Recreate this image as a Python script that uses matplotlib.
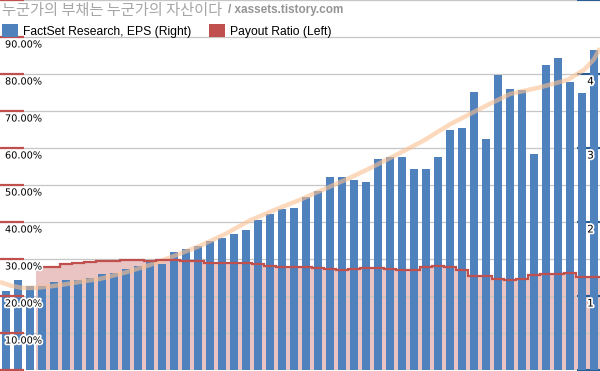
import numpy as np
import matplotlib
matplotlib.use("Agg")
import matplotlib.pyplot as plt
import matplotlib.patheffects as pe
from matplotlib.patches import Patch
from matplotlib.transforms import blended_transform_factory, offset_copy

# ---------------- data ----------------
eps = [1.07, 1.22, 1.14, 1.14, 1.19, 1.22, 1.22, 1.25, 1.30, 1.31,
       1.37, 1.40, 1.46, 1.43, 1.59, 1.64, 1.68, 1.74, 1.79, 1.84,
       1.89, 2.03, 2.11, 2.18, 2.19, 2.34, 2.42, 2.61, 2.61, 2.57,
       2.54, 2.85, 2.88, 2.88, 2.72, 2.72, 2.88, 3.24, 3.27, 3.76,
       3.12, 3.99, 3.80, 3.78, 2.92, 4.12, 4.22, 3.89, 3.74, 4.32]
payout_start = 3
payout = [27.8, 27.8, 28.6, 28.9, 29.2, 29.4, 29.5, 29.6, 29.6, 29.5,
          29.7, 29.7, 29.5, 29.5, 29.0, 29.0, 29.0, 29.0, 28.6, 28.1,
          27.9, 27.8, 27.8, 27.6, 27.3, 27.1, 27.2, 27.6, 27.5, 27.3,
          27.0, 27.0, 27.8, 28.2, 27.8, 27.0, 25.4, 25.4, 24.6, 24.2,
          24.7, 25.6, 25.9, 25.9, 26.1, 25.2, 25.1]
# trendline: bar-index position -> EPS units
trend_pos = [-0.5, 0.4, 1.3, 2.5, 3.7, 5.0, 6.5, 7.8, 10.0, 12.0,
             14.0, 16.2, 18.3, 20.3, 22.5, 24.5, 26.6, 28.7, 30.5,
             32.8, 34.8, 37.0, 39.5, 42.0, 44.5, 46.8, 48.2, 49.0, 49.5]
trend_val = [1.19, 1.14, 1.11, 1.11, 1.13, 1.16, 1.20, 1.23, 1.32, 1.42,
             1.54, 1.68, 1.84, 2.02, 2.17, 2.30, 2.45, 2.60, 2.74,
             2.93, 3.10, 3.32, 3.53, 3.73, 3.82, 3.92, 4.06, 4.20, 4.35]
left_ticks = [0, 10, 20, 30, 40, 50, 60, 70, 80, 90, 100]
left_labels = ["10.00%", "20.00%", "30.00%", "40.00%", "50.00%",
               "60.00%", "70.00%", "80.00%", "90.00%"]
right_ticks = [0, 1, 2, 3, 4, 5]
right_labels = ["1", "2", "3", "4"]
title_kr = "누군가의 부채는 누군가의 자산이다"
title_en = "/ xassets.tistory.com"
legend_names = ["FactSet Research, EPS (Right)", "Payout Ratio (Left)"]

BLUE = "#4F81BD"
RED = "#C0504D"
PINK = "#E9C4C3"
TREND = "#FAC090"
TICKBLUE = "#2B5D95"

W, H = 600, 371
fig = plt.figure(figsize=(W / 100, H / 100), dpi=100)
pos = [0, 1 / H, 1, 370 / H]

n = len(eps)
x = np.arange(n)
xlim = (-0.5, n - 0.5)

# background axis: percent (pink area + grid)
ax1 = fig.add_axes(pos)
pvals = np.array(payout) / 100.0
edges = np.arange(payout_start, n + 1) - 0.5
ax1.stairs(pvals, edges, fill=True, baseline=0, color=PINK, zorder=1)
ax1.set_xlim(*xlim)
ax1.set_ylim(0, 1)
ax1.set_yticks(np.array(left_ticks) / 100.0)
ax1.yaxis.grid(True, color="#C6C6C6", lw=0.9, zorder=1.5)
ax1.tick_params(left=False, labelleft=False, bottom=False, labelbottom=False)
for s in ax1.spines.values():
    s.set_visible(False)

# bars axis: EPS (right)
ax2 = fig.add_axes(pos, sharex=ax1)
ax2.patch.set_visible(False)
ax2.bar(x, eps, width=0.667, color=BLUE, zorder=2)
ax2.plot(trend_pos, trend_val, color=TREND, lw=3.2, alpha=0.6,
         solid_capstyle="butt", solid_joinstyle="round", zorder=4)
ax2.set_ylim(0, 5)
ax2.yaxis.tick_right()
ax2.set_yticks(right_ticks)
ax2.tick_params(axis="y", which="both", right=True, direction="in",
                length=16.5, width=1.5, color=TICKBLUE, labelright=False)
ax2.tick_params(bottom=False, labelbottom=False, left=False, labelleft=False)
for s in ax2.spines.values():
    s.set_visible(False)

# line axis: payout ratio line (left)
ax3 = fig.add_axes(pos, sharex=ax1)
ax3.patch.set_visible(False)
ax3.stairs(pvals, edges, fill=False, baseline=None, color=RED, lw=1.6,
           zorder=3)
ax3.set_ylim(0, 1)
ax3.set_yticks(np.array(left_ticks) / 100.0)
ax3.tick_params(axis="y", left=True, direction="in", length=17.3,
                width=1.6, color=RED, labelleft=False)
ax3.tick_params(bottom=False, labelbottom=False)
for s in ax3.spines.values():
    s.set_visible(False)

halo = [pe.withStroke(linewidth=2.5, foreground="white")]
trL = blended_transform_factory(ax3.transAxes, ax3.transData)
trL = offset_copy(trL, fig=fig, x=5, y=-7.5, units="dots")
for t, lab in zip(left_ticks[1:-1], left_labels):
    ax3.text(0, t / 100.0, lab, transform=trL, ha="left", va="center",
             fontsize=7, family="DejaVu Sans", color="black",
             path_effects=halo, zorder=10)
trR = blended_transform_factory(ax2.transAxes, ax2.transData)
trR = offset_copy(trR, fig=fig, x=-9.5, y=-7.5, units="dots")
for t, lab in zip(right_ticks[1:-1], right_labels):
    ax3.text(1, t, lab, transform=trR, ha="center", va="center",
             fontsize=7.5, family="DejaVu Sans", color="black",
             path_effects=halo, zorder=10)

# title watermark
fig.text(2 / W, 1 - 10 / H, title_kr, ha="left", va="center", fontsize=11,
         family=["Noto Sans CJK KR", "DejaVu Sans"], color="#A6A6A6")
fig.text(228 / W, 1 - 10.5 / H, title_en, ha="left", va="center",
         fontsize=8.5, family="Liberation Sans", weight="bold",
         color="#959595")

# legend
handles = [Patch(facecolor=BLUE, edgecolor="none"),
           Patch(facecolor=RED, edgecolor="none")]
fig.legend(handles, legend_names, loc="center left",
           bbox_to_anchor=(0 / W, 1 - 31 / H), ncol=2, frameon=False,
           prop={"family": "Liberation Sans", "size": 8.7},
           handlelength=1.3, handleheight=1.2, handletextpad=0.4,
           columnspacing=1.5, borderaxespad=0, borderpad=0.2)

fig.savefig("out.png", dpi=100)
